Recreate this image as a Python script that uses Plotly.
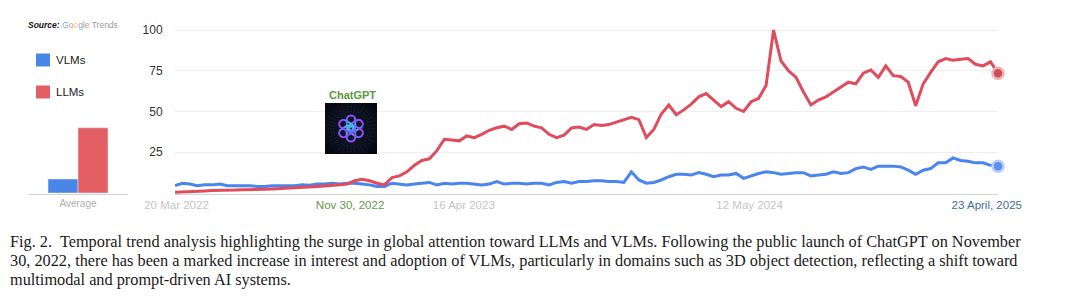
import base64
import math
import pandas as pd
import plotly.graph_objects as go

# ---------------- data ----------------
SERIES = ["VLMs", "LLMs"]
START_DATE = "2022-04-17"
STEP = "10D"

llm_values = [
    0.5, 0.8, 1, 1.2, 1.3, 1.5, 1.5, 1.7, 1.8, 2,
    2, 2.2, 2.3, 2.5, 2.7, 3, 3, 3.3, 3.8, 4,
    4.3, 4.5, 5, 5.5, 7.5, 8.5, 7.5, 6, 5, 9.5,
    10.5, 13, 17, 20, 21, 26, 33, 32.5, 32, 35,
    34, 36, 38.5, 40, 41, 39, 42.5, 43, 41, 40,
    36, 34, 35.5, 40, 40.5, 39, 42, 41.5, 42, 43.5,
    45, 46.5, 45, 34, 39, 48.5, 54, 48, 51, 54.5,
    59, 61, 57, 53, 56, 52, 50, 56, 58, 66,
    100, 81, 75, 71, 62, 54, 57, 59, 62, 65,
    68, 67, 73.5, 75.5, 71, 78, 72, 71.5, 68, 53.5,
    67, 74, 80.5, 82.5, 81.5, 82, 82.5, 79, 78, 80.5,
    73.5,
]
vlm_values = [
    4.5, 6, 5.5, 4.5, 5, 5, 5.5, 4.5, 4.5, 4.5,
    4.5, 4, 4, 4.5, 4.5, 4.5, 4.5, 5, 4.8, 5.5,
    5.5, 6, 5.5, 6, 6, 5.5, 5, 4, 4, 6,
    5.5, 5, 5.5, 6, 6.5, 5, 6, 5.5, 6, 6,
    5.5, 5, 5.5, 7, 5.5, 6, 6, 5.5, 6, 6,
    5, 6.5, 7, 6, 7, 7, 7.5, 7.5, 7, 7,
    6.5, 13, 8, 6, 6.5, 8, 10, 11.5, 11.5, 11,
    12.5, 11.5, 10, 11, 11, 12, 9, 10.5, 12, 13,
    12.5, 11.5, 12, 12.5, 12.5, 10.5, 11, 11.5, 13, 12,
    12.5, 15, 16, 14.5, 16.5, 16.5, 16.5, 16, 14, 11.5,
    14, 15, 18.5, 18.5, 21.5, 20, 19.5, 18.5, 18.5, 17,
    16.5,
]
avg_category = ["Average"]
avg_vlm = [8.6]
avg_llm = [40]

tick_dates = ["2022-04-19", "2022-12-07", "2023-05-08", "2024-05-24", "2025-04-06"]
tick_text = ["20 Mar 2022", "Nov 30, 2022", "16 Apr 2023", "12 May 2024", "23 April, 2025"]
tick_colors = ["#c4c4c4", "#5f9a45", "#c4c4c4", "#c4c4c4", "#3f6d9a"]
y_ticks = [25, 50, 75, 100]

caption_lines = [
    "Fig. 2.  Temporal trend analysis highlighting the surge in global attention toward LLMs and VLMs. Following the public launch of ChatGPT on November",
    "30, 2022, there has been a marked increase in interest and adoption of VLMs, particularly in domains such as 3D object detection, reflecting a shift toward",
    "multimodal and prompt-driven AI systems.",
]

# ---------------- styles ----------------
BLUE = "#4a84ee"
RED = "#e04c5c"
BLUE_BAR = "#4a86e8"
RED_BAR = "#e35f64"
W, H = 1080, 300

dates = pd.date_range(START_DATE, periods=len(llm_values), freq=STEP)


def px(x):
    return x / W


def py(y):
    return 1 - y / H


fig = go.Figure()

fig.add_trace(go.Scatter(x=dates, y=vlm_values, mode="lines", name=SERIES[0],
                         line=dict(color=BLUE, width=3), showlegend=False,
                         xaxis="x", yaxis="y"))
fig.add_trace(go.Scatter(x=dates, y=llm_values, mode="lines", name=SERIES[1],
                         line=dict(color=RED, width=3), showlegend=False,
                         xaxis="x", yaxis="y"))
fig.add_trace(go.Scatter(x=[dates[-1]], y=[vlm_values[-1]], mode="markers",
                         marker=dict(size=11, color="#5d8ff0", line=dict(color="#b9cdf7", width=2.5)),
                         showlegend=False, cliponaxis=False, xaxis="x", yaxis="y"))
fig.add_trace(go.Scatter(x=[dates[-1]], y=[llm_values[-1]], mode="markers",
                         marker=dict(size=11, color="#c9505b", line=dict(color="#f3b0b5", width=2.5)),
                         showlegend=False, cliponaxis=False, xaxis="x", yaxis="y"))

fig.add_trace(go.Bar(x=avg_category, y=avg_vlm, name=SERIES[0], marker=dict(color=BLUE_BAR),
                     showlegend=False, xaxis="x2", yaxis="y2"))
fig.add_trace(go.Bar(x=avg_category, y=avg_llm, name=SERIES[1], marker=dict(color=RED_BAR),
                     showlegend=False, xaxis="x2", yaxis="y2"))

y_range = [-0.6, 104]
y_domain = [py(194), py(23.5)]

fig.update_layout(
    width=W, height=H,
    margin=dict(l=0, r=0, t=0, b=0, pad=0, autoexpand=False),
    paper_bgcolor="white", plot_bgcolor="rgba(0,0,0,0)",
    barmode="group", bargap=0.4, bargroupgap=0,
    font=dict(family="Liberation Sans, Arial, sans-serif", color="#333333"),
    xaxis=dict(domain=[px(175), px(998)], range=[dates[0], dates[-1]], type="date",
               showgrid=False, zeroline=False, showline=True, linecolor="#d4d4d4", linewidth=1,
               tickvals=tick_dates,
               ticktext=[f"<span style='color:{c}'>{t}</span>" for t, c in zip(tick_text, tick_colors)],
               ticks="", tickfont=dict(size=11.5), anchor="y", automargin=False),
    yaxis=dict(domain=y_domain, range=y_range, tickvals=y_ticks, showgrid=True,
               gridcolor="#eeeeee", gridwidth=1, zeroline=False, showline=False,
               ticks="outside", ticklen=9, tickcolor="rgba(0,0,0,0)",
               tickfont=dict(size=12, color="#333333"), anchor="x", automargin=False),
    xaxis2=dict(domain=[px(28), px(128)], type="category", showgrid=False, zeroline=False,
                showline=True, linecolor="#d4d4d4", linewidth=1, ticks="",
                tickfont=dict(size=10, color="#b0b0b0"), anchor="y2", automargin=False),
    yaxis2=dict(domain=y_domain, range=y_range, visible=False, anchor="x2", automargin=False),
)

annotations = []
annotations.append(dict(
    x=px(26), y=py(25), xref="paper", yref="paper", xanchor="left", yanchor="middle",
    showarrow=False,
    text=("<b><i>Source:</i></b> "
          "<span style='color:#7aa3f0'>G</span><span style='color:#ee8a80'>o</span>"
          "<span style='color:#f5cd6a'>o</span><span style='color:#7aa3f0'>g</span>"
          "<span style='color:#7cc08a'>l</span><span style='color:#ee8a80'>e</span>"
          "<span style='color:#9a9a9a'> Trends</span>"),
    font=dict(size=8.5, color="#111111")))

shapes = []
for i, (name, col) in enumerate(zip(SERIES, [BLUE_BAR, RED_BAR])):
    yc = 60 + 32 * i
    shapes.append(dict(type="rect", xref="paper", yref="paper",
                       x0=px(36), x1=px(50), y0=py(yc - 6.5), y1=py(yc + 6.5),
                       fillcolor=col, line=dict(width=0)))
    annotations.append(dict(x=px(54), y=py(yc), xref="paper", yref="paper",
                            xanchor="left", yanchor="middle", showarrow=False,
                            text=name, font=dict(size=11.5, color="#222222")))

annotations.append(dict(x=px(352), y=py(95), xref="paper", yref="paper",
                        xanchor="center", yanchor="middle", showarrow=False,
                        text="<b>ChatGPT</b>", font=dict(size=11, color="#5a9a42")))

for i, line in enumerate(caption_lines):
    annotations.append(dict(x=px(8), y=py(241 + 19 * i), xref="paper", yref="paper",
                            xanchor="left", yanchor="middle", showarrow=False,
                            text=line, font=dict(family="Liberation Serif, serif", size=16.3, color="#1a1a1a")))

rays = []
for k in range(36):
    a = 2 * math.pi * k / 36
    r1, r2 = 17, 25
    rays.append(f"<line x1='{26 + r1*math.cos(a):.1f}' y1='{26 + r1*math.sin(a):.1f}' "
                f"x2='{26 + r2*math.cos(a):.1f}' y2='{26 + r2*math.sin(a):.1f}' "
                f"stroke='#4a7bd0' stroke-opacity='0.35' stroke-width='0.6' stroke-dasharray='1 1.5'/>")
petals = []
for k in range(6):
    petals.append(f"<rect x='-4.2' y='-13' width='8.4' height='15' rx='4.2' "
                  f"transform='rotate({k*60})' fill='none' stroke='url(#g)' stroke-width='2'/>")
svg = f"""<svg xmlns='http://www.w3.org/2000/svg' width='52' height='51' viewBox='0 0 52 51'>
<defs><linearGradient id='g' x1='0' y1='0' x2='1' y2='1' gradientUnits='objectBoundingBox'>
<stop offset='0' stop-color='#b040ff'/><stop offset='0.5' stop-color='#6a5cff'/><stop offset='1' stop-color='#30e0d0'/></linearGradient>
<radialGradient id='bg' cx='0.5' cy='0.5' r='0.7'><stop offset='0' stop-color='#141a2e'/><stop offset='1' stop-color='#05060c'/></radialGradient></defs>
<rect width='52' height='51' fill='url(#bg)'/>
{''.join(rays)}
<g transform='translate(26 25.5)'>{''.join(petals)}</g>
</svg>"""
src = "data:image/svg+xml;base64," + base64.b64encode(svg.encode()).decode()
fig.add_layout_image(dict(source=src, xref="paper", yref="paper", x=px(325), y=py(103),
                          sizex=52 / W, sizey=51 / H, xanchor="left", yanchor="top",
                          sizing="stretch", layer="above"))

fig.update_layout(annotations=annotations, shapes=shapes)
fig.write_html("out.html")
